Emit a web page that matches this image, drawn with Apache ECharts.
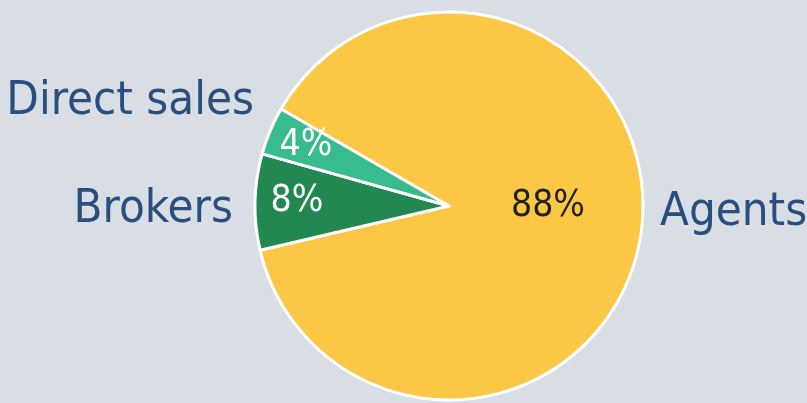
<!DOCTYPE html>
<html><head><meta charset="utf-8">
<script src="https://cdn.jsdelivr.net/npm/echarts@6/dist/echarts.min.js"></script>
<style>html,body{margin:0;padding:0;background:#D9DEE4}#c{width:807px;height:403px}</style>
</head><body><div id="c"></div>
<script>
const categories = ['Agents', 'Brokers', 'Direct sales'];
const shares = [88, 8, 4];
const colors = ['#FCC744', '#238751', '#38BB8E'];
const pctColors = ['#222222', '#FFFFFF', '#FFFFFF'];

const FONT = '"DejaVu Sans Condensed", "Liberation Sans Narrow", "Open Sans", sans-serif';
const center = [449, 206];
const radius = 194;
// label positions (layout only)
const pctPos = [[548, 206], [297, 201], [306, 145]];
const namePos = [[660, 213, 'left'], [233, 210, 'right'], [254, 102, 'right']];

const chart = echarts.init(document.getElementById('c'));
chart.setOption({
  backgroundColor: '#D9DEE4',
  animation: false,
  series: [
    {
      type: 'pie', center: center, radius: radius, startAngle: 150, clockwise: true,
      data: categories.map((n, i) => ({
        name: n, value: shares[i],
        itemStyle: { color: colors[i] },
        label: { color: pctColors[i] }
      })),
      itemStyle: { borderColor: '#FFFFFF', borderWidth: 3 },
      label: { show: true, position: 'inside', formatter: '{c}%', fontFamily: FONT, fontSize: 37, overflow: 'none' },
      labelLine: { show: false },
      labelLayout: p => ({ x: pctPos[p.dataIndex][0], y: pctPos[p.dataIndex][1], align: 'center', verticalAlign: 'middle' })
    },
    {
      type: 'pie', center: center, radius: radius, startAngle: 150, clockwise: true, silent: true, z: 3,
      data: categories.map((n, i) => ({ name: n, value: shares[i] })),
      itemStyle: { color: 'rgba(0,0,0,0)', borderWidth: 0 },
      label: { show: true, position: 'inside', formatter: '{b}', color: '#2A4F7E', fontFamily: FONT, fontSize: 47, overflow: 'none' },
      labelLine: { show: false },
      labelLayout: p => ({ x: namePos[p.dataIndex][0], y: namePos[p.dataIndex][1], align: namePos[p.dataIndex][2], verticalAlign: 'middle' })
    }
  ]
});
</script></body></html>
